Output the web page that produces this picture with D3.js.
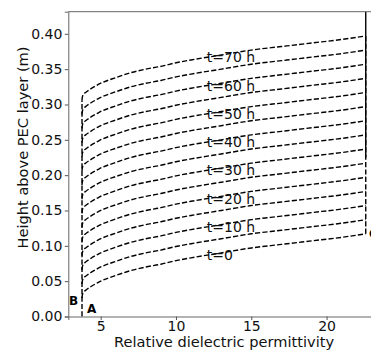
<!DOCTYPE html>
<html>
<head>
<meta charset="utf-8">
<script src="https://cdn.jsdelivr.net/npm/d3@7"></script>
<style>
  html, body { margin: 0; padding: 0; background: #fff; }
  svg { display: block; font-family: "DejaVu Sans", sans-serif; }
</style>
</head>
<body>
<div id="chart"></div>
<script>
// permittivity samples along each curve and the rise above the start height
const epsSamples  = [3.76, 3.78, 3.85, 4.0, 4.3, 4.9, 6.0, 7.0, 8.0, 9.0, 10.0, 11.0, 13.0, 15.0, 17.0, 19.0, 21.0, 22.6]
const profileRise = [0, 0.004, 0.008, 0.011, 0.0155, 0.023, 0.032, 0.039, 0.044, 0.048, 0.053, 0.057, 0.064, 0.071, 0.076, 0.081, 0.086, 0.091]

// one curve every 5 h, start height at the left vertical line
const timesH       = [0, 5, 10, 15, 20, 25, 30, 35, 40, 45, 50, 55, 60, 65, 70]
const startHeights = [0.026, 0.046, 0.066, 0.086, 0.106, 0.126, 0.146, 0.166, 0.186, 0.206, 0.226, 0.246, 0.266, 0.286, 0.306]

const labelTimes = [0, 10, 20, 30, 40, 50, 60, 70]
const labelEps = 12.05

const xTicks = [5, 10, 15, 20]
const yTicks = [0, 0.05, 0.10, 0.15, 0.20, 0.25, 0.30, 0.35, 0.40]

const solidTop = 0.225 // where the solid right-hand line stops

let width = 371
let height = 350

let x = d3.scaleLinear().domain([2.85, 23.5]).range([68.3, 379.3])
let y = d3.scaleLinear().domain([0, 0.4313]).range([316.5, 11.7])

let svg = d3.select('#chart')
  .append('svg')
  .attr('width', width)
  .attr('height', height)

// curves
let line = d3.line()
  .x(d => x(d[0]))
  .y(d => y(d[1]))
  .curve(d3.curveMonotoneX)

let curves = timesH.map((t, i) => epsSamples.map((e, j) => [e, startHeights[i] + profileRise[j]]))

svg.append('g')
  .selectAll('path')
  .data(curves)
  .enter().append('path')
  .attr('d', line)
  .attr('fill', 'none')
  .attr('stroke', '#000')
  .attr('stroke-width', 1.4)
  .attr('stroke-dasharray', '5.2,2.2')

// left vertical (start of curves)
let epsStart = epsSamples[0]
let epsEnd = epsSamples[epsSamples.length - 1]
let riseEnd = profileRise[profileRise.length - 1]

svg.append('line')
  .attr('x1', x(epsStart)).attr('x2', x(epsStart))
  .attr('y1', y(0)).attr('y2', y(startHeights[startHeights.length - 1]))
  .attr('stroke', '#000')
  .attr('stroke-width', 1.4)
  .attr('stroke-dasharray', '5.2,2.2')

// right vertical: dashed along curve ends, solid above
svg.append('line')
  .attr('x1', x(epsEnd)).attr('x2', x(epsEnd))
  .attr('y1', y(startHeights[0] + riseEnd)).attr('y2', y(startHeights[startHeights.length - 1] + riseEnd))
  .attr('stroke', '#000')
  .attr('stroke-width', 1.4)
  .attr('stroke-dasharray', '5.2,2.2')

svg.append('line')
  .attr('x1', x(epsEnd)).attr('x2', x(epsEnd))
  .attr('y1', y(solidTop)).attr('y2', y.range()[1])
  .attr('stroke', '#000')
  .attr('stroke-width', 1.4)

// time labels sit on their curve
let riseAtLabel = d3.scaleLinear().domain(epsSamples).range(profileRise)
svg.append('g')
  .selectAll('text')
  .data(labelTimes)
  .enter().append('text')
  .attr('x', x(labelEps))
  .attr('y', d => y(startHeights[timesH.indexOf(d)] + riseAtLabel(labelEps)))
  .attr('dy', '0.36em')
  .attr('font-size', '14px')
  .attr('fill', '#111')
  .text(d => d === 0 ? 't=0' : 't=' + d + ' h')

// point labels
svg.append('text').attr('x', 69).attr('y', 305)
  .attr('font-size', '12px').attr('font-weight', 'bold').text('B')
svg.append('text').attr('x', 87).attr('y', 313)
  .attr('font-size', '12px').attr('font-weight', 'bold').text('A')
svg.append('text').attr('x', 369).attr('y', 238)
  .attr('font-size', '12px').attr('font-weight', 'bold').text('C')

// axes
let xAxis = svg.append('g')
  .attr('transform', 'translate(0,' + y(0) + ')')
  .call(d3.axisBottom(x).tickValues(xTicks).tickSize(3.5).tickPadding(1.5).tickFormat(d3.format('d')))
let yAxis = svg.append('g')
  .attr('transform', 'translate(' + x.range()[0] + ',0)')
  .call(d3.axisLeft(y).tickValues(yTicks).tickSize(3.5).tickPadding(2.5).tickFormat(d3.format('.2f')))

;[xAxis, yAxis].forEach(a => {
  a.select('.domain').attr('stroke', '#666')
  a.selectAll('.tick line').attr('stroke', '#555')
  a.selectAll('.tick text').attr('font-size', '14px').attr('fill', '#111')
    .attr('font-family', '"DejaVu Sans", sans-serif')
})

// top spine
svg.append('line')
  .attr('x1', x.range()[0]).attr('x2', width)
  .attr('y1', y.range()[1]).attr('y2', y.range()[1])
  .attr('stroke', '#666')

// axis titles
svg.append('text')
  .attr('x', 224).attr('y', 347)
  .attr('text-anchor', 'middle')
  .attr('font-size', '14.6px')
  .attr('fill', '#111')
  .text('Relative dielectric permittivity')

svg.append('text')
  .attr('transform', 'translate(28,147.5) rotate(-90)')
  .attr('text-anchor', 'middle')
  .attr('font-size', '14.6px')
  .attr('fill', '#111')
  .text('Height above PEC layer (m)')
</script>
</body>
</html>
